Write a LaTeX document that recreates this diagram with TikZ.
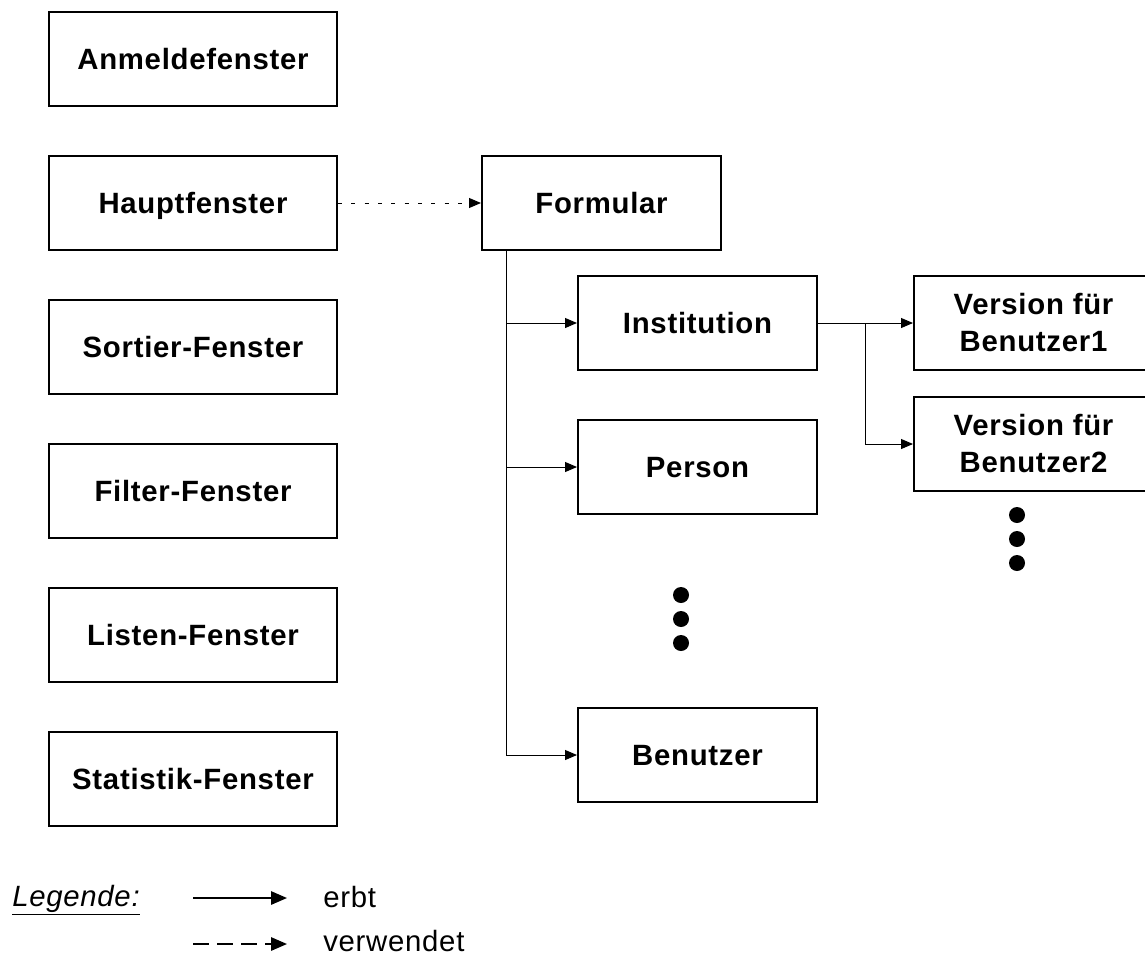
\documentclass[tikz,border=0pt]{standalone}
\usepackage{fontspec}
\setmainfont{Liberation Sans}[LetterSpace=2.5]
\usetikzlibrary{arrows.meta, positioning, calc}

\begin{document}
\begin{tikzpicture}[
  x=0.75pt, y=-0.75pt,
  node distance = 36pt and 107.25pt,
  box/.style     = {draw, line width=1.5pt, minimum height=70.5pt,
                    inner sep=0pt, align=center,
                    font=\fontsize{22}{27.75}\selectfont\bfseries},
  fenster/.style = {box, minimum width=216pt, text height=15.75pt,
                    text depth=0pt},
  form/.style    = {fenster, minimum width=179.25pt},
  version/.style = {box, minimum width=179.25pt},
  arr/.style     = {-{Triangle[length=9pt,width=7.5pt]}, line width=0.75pt},
  uarr/.style    = {arr, dash pattern=on 3pt off 7pt},
  legarr/.style  = {-{Triangle[length=12pt,width=10pt]}, line width=1.5pt},
  legtext/.style = {font=\fontsize{22}{26}\selectfont, anchor=base west,
                    inner sep=0pt}
]
\useasboundingbox (0,0) rectangle (1145,957);

% Fenster
\node[fenster] (anmelde) at (193,59) {Anmeldefenster};
\node[fenster, below=of anmelde] (haupt) {Hauptfenster};
\node[fenster, below=of haupt] (sortier) {Sortier-Fenster};
\node[fenster, below=of sortier] (filter) {Filter-Fenster};
\node[fenster, below=of filter] (listen) {Listen-Fenster};
\node[fenster, below=of listen] (statistik) {Statistik-Fenster};

% Formulare
\node[form, right=of haupt] (formular) {Formular};
\node[form] (institution) at (697.5,323) {Institution};
\node[form, below=of institution] (person) {Person};
\node[form, below=144pt of person] (benutzer) {Benutzer};
\node[version, right=71.25pt of institution] (version1) {Version für\\Benutzer1};
\node[version, below=18.75pt of version1] (version2) {Version für\\Benutzer2};

\coordinate (trunk) at ($(formular.south west)+(25,0)$);
\coordinate (fork) at ($(institution.east)+(47,0)$);

\draw[uarr] (haupt.east) -- (formular.west);
\draw[arr] (trunk) |- (benutzer.west);
\draw[arr] (trunk |- institution.west) -- (institution.west);
\draw[arr] (trunk |- person.west) -- (person.west);
\draw[arr] (institution.east) -- (version1.west);
\draw[arr] (fork) |- (version2.west);

\foreach \yy in {595,619,643} \fill (681,\yy) circle (6pt);
\foreach \yy in {515,539,563} \fill (1017,\yy) circle (6pt);

% Legende
\node[legtext] (legende) at (12,906) {\underline{\textit{Legende:}}};
\node[legtext] (erbt) at (323,907) {erbt};
\node[legtext] (verwendet) at (323,951) {verwendet};
\coordinate (e1) at (193,898);
\coordinate (e2) at (287,898);
\coordinate (v1) at (193,944);
\coordinate (v2) at (287,944);
\draw[legarr] (e1) -- (e2);
\draw[legarr, dash pattern=on 12pt off 6pt] (v1) -- (v2);

\end{tikzpicture}
\end{document}
